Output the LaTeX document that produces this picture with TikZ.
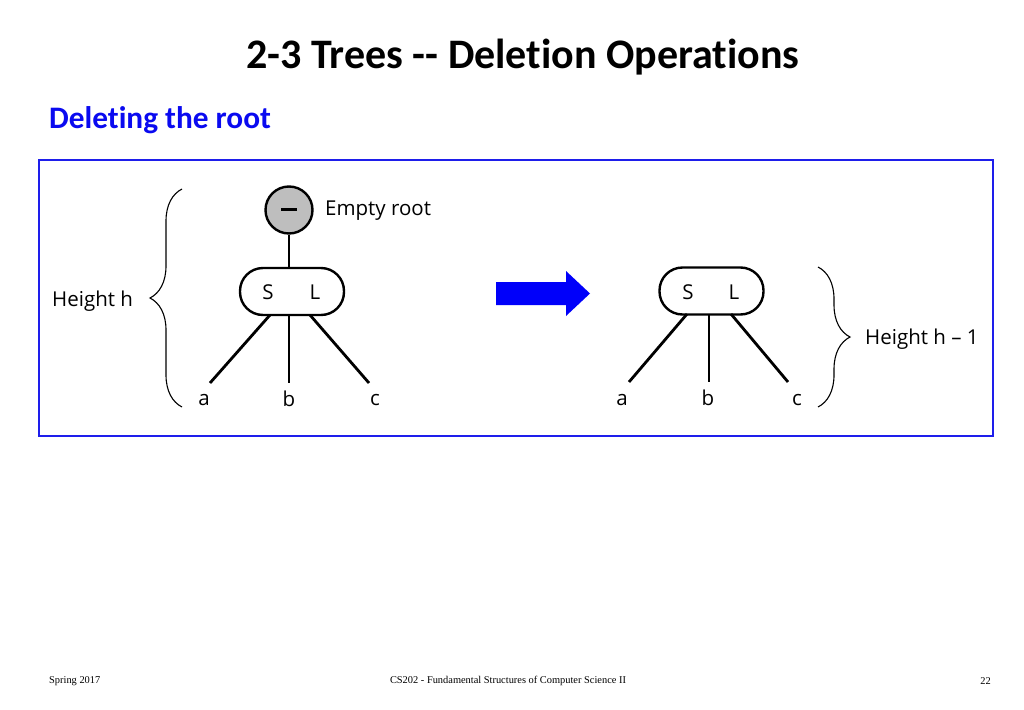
\documentclass[tikz,border=0pt]{standalone}
\usepackage{fontspec}
\setmainfont{Liberation Serif}
\newfontfamily\titlefont[Ligatures={NoCommon,TeX}]{Carlito}
\newfontfamily\treefont{Open Sans}
\usetikzlibrary{decorations.pathreplacing}
\definecolor{frameblue}{RGB}{30,30,235}
\definecolor{subblue}{RGB}{10,10,240}
\definecolor{arrowblue}{RGB}{0,0,250}
\definecolor{rootgray}{RGB}{190,190,190}
\begin{document}
\begin{tikzpicture}[x=1pt,y=-1pt,
  edge/.style={line width=2.8pt},
  pill/.style={draw,line width=2.4pt,rounded corners=23pt,minimum width=104pt,minimum height=47pt,inner sep=0pt},
  tlabel/.style={font=\treefont\fontsize{20.5}{24}\selectfont,inner sep=0pt},
  bracestyle/.style={decorate,decoration={brace,amplitude=32pt},line width=1.1pt},
  foot/.style={font=\fontsize{10.4}{12}\selectfont,inner sep=0pt}]
\useasboundingbox (0,0) rectangle (1024,709);
% title
\node[font=\titlefont\bfseries\fontsize{42}{48}\selectfont,inner sep=0pt] (title) at (523,57) {2-3 Trees -{}- Deletion Operations};
\node[font=\titlefont\bfseries\fontsize{31.3}{36}\selectfont,text=subblue,anchor=west,inner sep=0pt] (sub) at (49,120) {Deleting the root};
% frame
\node[draw=frameblue,line width=2.4pt,minimum width=954pt,minimum height=276pt,inner sep=0pt] (frame) at (516,298) {};
% left tree
\node[circle,draw,fill=rootgray,line width=2.4pt,minimum size=47pt,inner sep=0pt] (root) at (289,210) {};
\draw[line width=3pt] (281,209) -- (297,209);
\node[tlabel,anchor=west] (emptylbl) at (325,211) {Empty root};
\node[pill] (ln) at (292,291.5) {};
\node[tlabel] (lS) at (268,292) {S};
\node[tlabel] (lL) at (315,292) {L};
\coordinate (la) at (210,383);
\coordinate (lb) at (289,383);
\coordinate (lc) at (369,383);
\draw[edge] (root.south) -- (ln.north -| root.south);
\draw[edge] (270,315) -- (la);
\draw[edge] (289,315) -- (lb);
\draw[edge] (310,315) -- (lc);
\node[tlabel] (lal) at (204,400) {a};
\node[tlabel] (lbl) at (289,399) {b};
\node[tlabel] (lcl) at (375,400) {c};
\coordinate (lbrb) at (182,407);
\coordinate (lbrt) at (182,189);
\draw[bracestyle] (lbrb) -- (lbrt);
\node[tlabel,anchor=west] (hh) at (52,301) {Height h};
% arrow
\fill[arrowblue] (496,282) -- (566,282) -- (566,271) -- (590,293.5) -- (566,316) -- (566,305) -- (496,305) -- cycle;
% right tree
\node[pill] (rn) at (711.5,291) {};
\node[tlabel] (rS) at (688,292) {S};
\node[tlabel] (rL) at (734,292) {L};
\coordinate (ra) at (629,382);
\coordinate (rb) at (709,382);
\coordinate (rc) at (788,382);
\draw[edge] (687,314) -- (ra);
\draw[edge] (709,314) -- (rb);
\draw[edge] (731,314) -- (rc);
\node[tlabel] (ral) at (622,400) {a};
\node[tlabel] (rbl) at (708,398) {b};
\node[tlabel] (rcl) at (797,400) {c};
\coordinate (rbrt) at (818,267);
\coordinate (rbrb) at (818,407);
\draw[bracestyle] (rbrt) -- (rbrb);
\node[tlabel,anchor=west] (hh1) at (865,339) {Height h \textendash{} 1};
% footer
\node[foot,anchor=west] (f1) at (49,681) {Spring 2017};
\node[foot] (f2) at (508,681) {CS202 - Fundamental Structures of Computer Science II};
\node[foot,anchor=east] (f3) at (991,681) {22};
\end{tikzpicture}
\end{document}
